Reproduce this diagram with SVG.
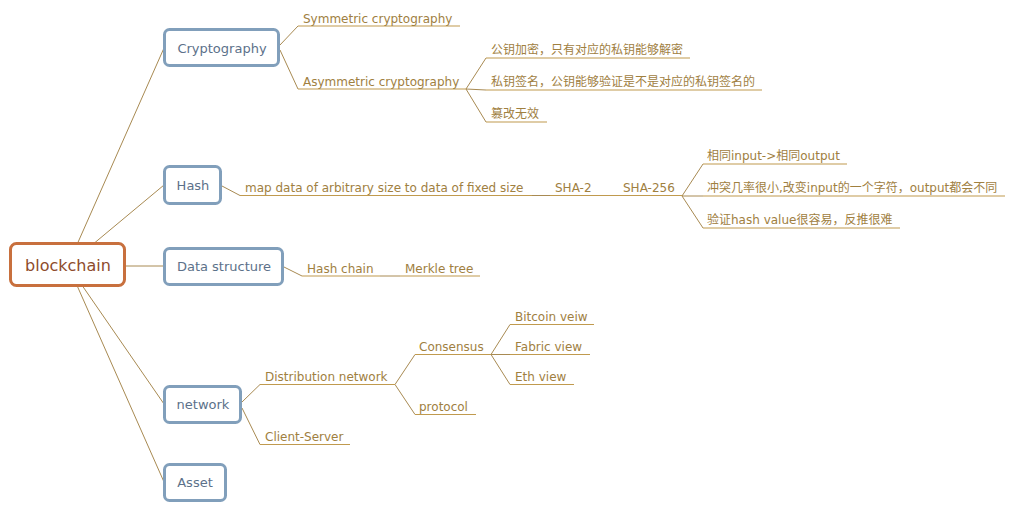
<svg xmlns="http://www.w3.org/2000/svg" width="1010" height="510" viewBox="0 0 1010 510">
<style>
text{font-family:"DejaVu Sans","Noto Sans CJK SC",sans-serif;}
.root{fill:#fff;stroke:#c8703e;stroke-width:3;}
.roott{font-size:16px;fill:#8e4b2c;text-anchor:middle;}
.topic{fill:#fff;stroke:#819fbb;stroke-width:3;}
.topict{font-size:13px;fill:#5c718a;text-anchor:middle;}
.sub{font-size:12px;fill:#a0803f;}
.ul{stroke:#c09a4e;stroke-width:1.2;fill:none;}
.br{stroke:#a88a52;stroke-width:1;fill:none;}
</style>
<rect width="1010" height="510" fill="#fff"/>
<g id="connectors">
<line class="br" x1="77.7" y1="243" x2="164" y2="48"/>
<line class="br" x1="94.4" y1="243" x2="164" y2="185"/>
<line class="br" x1="125" y1="266" x2="164" y2="266"/>
<line class="br" x1="83.2" y1="287" x2="164" y2="404"/>
<line class="br" x1="77.7" y1="287" x2="164" y2="482"/>
<polyline class="br" points="280,45 298,26"/>
<polyline class="br" points="280,50 298,89"/>
<polyline class="br" points="466,89 486,58"/>
<polyline class="br" points="466,89 486,90"/>
<polyline class="br" points="466,89 486,122"/>
<polyline class="br" points="222,186 240,195.5"/>
<polyline class="br" points="682,196 703,164"/>
<polyline class="br" points="682,196 703,196"/>
<polyline class="br" points="682,196 703,228"/>
<polyline class="br" points="284,267 302,276"/>
<polyline class="br" points="380,276 400,276"/>
<polyline class="br" points="242,402 260,384.5"/>
<polyline class="br" points="242,408 260,444.5"/>
<polyline class="br" points="395,384.5 415,354.5"/>
<polyline class="br" points="395,384.5 415,414.5"/>
<polyline class="br" points="491,354.5 510,324.5"/>
<polyline class="br" points="491,354.5 510,354.5"/>
<polyline class="br" points="491,354.5 510,384.5"/>
<polyline class="br" points="532,195.5 550,195.5"/>
</g>
<g id="blockchain"><rect class="root" x="10.5" y="243.5" width="114" height="42" rx="6"/><text class="roott" x="68" y="271">blockchain</text></g>
<g id="cryptography"><rect class="topic" x="164.5" y="29.5" width="114" height="36" rx="5"/><text class="topict" x="222" y="53">Cryptography</text></g>
<g id="hash"><rect class="topic" x="164.5" y="166.5" width="56" height="37" rx="5"/><text class="topict" x="193" y="190">Hash</text></g>
<g id="data-structure"><rect class="topic" x="164.5" y="248.5" width="118" height="36" rx="5"/><text class="topict" x="224" y="271">Data structure</text></g>
<g id="network"><rect class="topic" x="164.5" y="386.5" width="76" height="36" rx="5"/><text class="topict" x="203" y="409">network</text></g>
<g id="asset"><rect class="topic" x="164.5" y="464.5" width="61" height="36" rx="5"/><text class="topict" x="195" y="487">Asset</text></g>
<g id="symmetric"><line class="ul" x1="298" y1="26" x2="460" y2="26"/><text class="sub" x="303" y="22.5">Symmetric cryptography</text></g>
<g id="asymmetric"><line class="ul" x1="298" y1="89" x2="466" y2="89"/><text class="sub" x="303" y="85.5">Asymmetric cryptography</text></g>
<g id="pubkey-encrypt"><line class="ul" x1="486" y1="58" x2="690" y2="58"/><text class="sub" x="491" y="54">公钥加密，只有对应的私钥能够解密</text></g>
<g id="privkey-sign"><line class="ul" x1="486" y1="90" x2="762" y2="90"/><text class="sub" x="491" y="86">私钥签名，公钥能够验证是不是对应的私钥签名的</text></g>
<g id="tamper"><line class="ul" x1="486" y1="122" x2="547" y2="122"/><text class="sub" x="491" y="118">篡改无效</text></g>
<g id="map-data"><line class="ul" x1="240" y1="195.5" x2="532" y2="195.5"/><text class="sub" x="245" y="192">map data of arbitrary size to data of fixed size</text></g>
<g id="sha2"><line class="ul" x1="550" y1="195.5" x2="598" y2="195.5"/><text class="sub" x="555" y="192">SHA-2</text></g>
<g id="sha256"><line class="ul" x1="598" y1="195.5" x2="682" y2="195.5"/><text class="sub" x="623" y="192">SHA-256</text></g>
<g id="same-io"><line class="ul" x1="703" y1="164" x2="847" y2="164"/><text class="sub" x="707" y="160">相同input-&gt;相同output</text></g>
<g id="collision"><line class="ul" x1="703" y1="196" x2="1005" y2="196"/><text class="sub" x="707" y="192">冲突几率很小,改变input的一个字符，output都会不同</text></g>
<g id="verify"><line class="ul" x1="703" y1="228" x2="900" y2="228"/><text class="sub" x="707" y="224">验证hash value很容易，反推很难</text></g>
<g id="hash-chain"><line class="ul" x1="302" y1="276" x2="380" y2="276"/><text class="sub" x="307" y="272.5">Hash chain</text></g>
<g id="merkle"><line class="ul" x1="400" y1="276" x2="480" y2="276"/><text class="sub" x="405" y="272.5">Merkle tree</text></g>
<g id="distribution"><line class="ul" x1="260" y1="384.5" x2="395" y2="384.5"/><text class="sub" x="265" y="381">Distribution network</text></g>
<g id="client-server"><line class="ul" x1="260" y1="444.5" x2="350" y2="444.5"/><text class="sub" x="265" y="441">Client-Server</text></g>
<g id="consensus"><line class="ul" x1="415" y1="354.5" x2="491" y2="354.5"/><text class="sub" x="419" y="351">Consensus</text></g>
<g id="protocol"><line class="ul" x1="415" y1="414.5" x2="476" y2="414.5"/><text class="sub" x="419" y="411">protocol</text></g>
<g id="bitcoin"><line class="ul" x1="510" y1="324.5" x2="594" y2="324.5"/><text class="sub" x="515" y="321">Bitcoin veiw</text></g>
<g id="fabric"><line class="ul" x1="510" y1="354.5" x2="590" y2="354.5"/><text class="sub" x="515" y="351">Fabric view</text></g>
<g id="eth"><line class="ul" x1="510" y1="384.5" x2="574" y2="384.5"/><text class="sub" x="515" y="381">Eth view</text></g>
</svg>
